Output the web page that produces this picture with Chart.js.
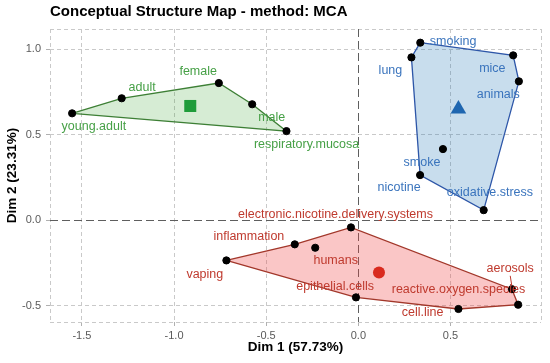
<!DOCTYPE html>
<html>
<head>
<meta charset="utf-8">
<script src="https://cdn.jsdelivr.net/npm/chart.js@4.4.1/dist/chart.umd.min.js"></script>
<style>
  html, body { margin: 0; padding: 0; background: #fff; }
  .chart-container { position: relative; width: 550px; height: 363px; }
</style>
</head>
<body>
<div class="chart-container"><canvas id="chart"></canvas></div>
<script>
// cluster 1 (green)
const greenWords = ["young.adult", "adult", "female", "male", "respiratory.mucosa"];
const greenX = [-1.553, -1.284, -0.757, -0.576, -0.390];
const greenY = [0.624, 0.712, 0.801, 0.677, 0.520];
const greenHull = [0, 1, 2, 3, 4];
const greenCentroid = [-0.912, 0.667];
const greenLabelX = [-1.435, -1.173, -0.869, -0.470, -0.281];
const greenLabelY = [0.546, 0.776, 0.870, 0.602, 0.444];

// cluster 2 (blue)
const blueWords = ["smoking", "lung", "mice", "animals", "smoke", "nicotine", "oxidative.stress"];
const blueX = [0.336, 0.288, 0.840, 0.871, 0.459, 0.335, 0.680];
const blueY = [1.037, 0.951, 0.963, 0.811, 0.415, 0.263, 0.058];
const blueHull = [0, 2, 3, 6, 5, 1];
const blueCentroid = [0.543, 0.649];
const blueLabelX = [0.514, 0.174, 0.727, 0.759, 0.345, 0.221, 0.714];
const blueLabelY = [1.045, 0.877, 0.885, 0.733, 0.337, 0.191, 0.162];

// cluster 3 (red)
const redWords = ["electronic.nicotine.delivery.systems", "inflammation", "humans", "vaping",
  "epithelial.cells", "cell.line", "reactive.oxygen.species", "aerosols"];
const redX = [-0.040, -0.345, -0.234, -0.716, -0.013, 0.543, 0.867, 0.833];
const redY = [-0.043, -0.142, -0.162, -0.236, -0.452, -0.520, -0.495, -0.404];
const redHull = [3, 1, 0, 7, 6, 5, 4];
const redCentroid = [0.112, -0.306];
const redLabelX = [-0.124, -0.594, -0.123, -0.833, -0.126, 0.349, 0.543, 0.824];
const redLabelY = [0.035, -0.094, -0.238, -0.318, -0.386, -0.542, -0.409, -0.285];

// labels joined to their point by a short segment
const segmentWords = ["aerosols"];

const xTickValues = [-1.5, -1.0, -0.5, 0.0, 0.5];
const yTickValues = [-0.5, 0.0, 0.5, 1.0];

const clusters = [
  { words: greenWords, xs: greenX, ys: greenY, hull: greenHull, centroid: greenCentroid,
    lx: greenLabelX, ly: greenLabelY, stroke: "#3d7f35", fill: "rgba(50,160,40,0.2)",
    text: "#46a046", mark: "#1f9c3a", style: "rect", size: 8.5 },
  { words: blueWords, xs: blueX, ys: blueY, hull: blueHull, centroid: blueCentroid,
    lx: blueLabelX, ly: blueLabelY, stroke: "#2d56a8", fill: "rgba(35,120,185,0.25)",
    text: "#3a74bd", mark: "#1f66b0", style: "triangle", size: 9 },
  { words: redWords, xs: redX, ys: redY, hull: redHull, centroid: redCentroid,
    lx: redLabelX, ly: redLabelY, stroke: "#a2372a", fill: "rgba(238,65,65,0.3)",
    text: "#bf3a2e", mark: "#d92a1e", style: "circle", size: 6 }
];

const datasets = [];
clusters.forEach(c => {
  const poly = c.hull.map(i => ({ x: c.xs[i], y: c.ys[i] }));
  poly.push(poly[0]);
  datasets.push({
    data: poly, showLine: true, fill: "shape", backgroundColor: c.fill,
    borderColor: c.stroke, borderWidth: 1.3, pointRadius: 0, order: 3
  });
  datasets.push({
    data: c.xs.map((x, i) => ({ x: x, y: c.ys[i] })),
    backgroundColor: "#000", borderColor: "#000", pointRadius: 3.6, order: 2
  });
  datasets.push({
    data: [{ x: c.centroid[0], y: c.centroid[1] }],
    pointStyle: c.style, pointRadius: c.size, backgroundColor: c.mark,
    borderColor: c.mark, borderWidth: 0, order: 1
  });
});

const FONT = "'Liberation Sans', Arial, Helvetica, sans-serif";

// zero lines, title and word labels
const extras = {
  id: "extras",
  beforeDatasetsDraw(chart) {
    const { ctx, chartArea: a, scales: { x, y } } = chart;
    ctx.save();
    ctx.strokeStyle = "#5e5e5e";
    ctx.lineWidth = 1;
    ctx.setLineDash([8, 4]);
    const x0 = Math.round(x.getPixelForValue(0)) + 0.5;
    const y0 = Math.round(y.getPixelForValue(0)) + 0.5;
    ctx.beginPath();
    ctx.moveTo(x0, a.top); ctx.lineTo(x0, a.bottom);
    ctx.moveTo(a.left, y0); ctx.lineTo(a.right, y0);
    ctx.stroke();
    ctx.restore();
  },
  afterDatasetsDraw(chart) {
    const { ctx, scales: { x, y } } = chart;
    ctx.save();
    ctx.font = "12.5px " + FONT;
    ctx.textAlign = "center";
    ctx.textBaseline = "middle";
    clusters.forEach(c => {
      c.words.forEach((w, i) => {
        const px = x.getPixelForValue(c.lx[i]);
        const py = y.getPixelForValue(c.ly[i]);
        if (segmentWords.includes(w)) {
          ctx.strokeStyle = c.text;
          ctx.lineWidth = 1;
          ctx.beginPath();
          ctx.moveTo(px, py + 7);
          ctx.lineTo(x.getPixelForValue(c.xs[i]), y.getPixelForValue(c.ys[i]) - 3);
          ctx.stroke();
        }
        ctx.fillStyle = c.text;
        ctx.fillText(w, px, py);
      });
    });
    ctx.fillStyle = "#000";
    ctx.font = "bold 15px " + FONT;
    ctx.textAlign = "left";
    ctx.fillText("Conceptual Structure Map - method: MCA", 50, 12);
    ctx.restore();
  }
};

function fmt(vals) {
  return function (v) {
    return vals.some(t => Math.abs(t - v) < 1e-9) ? v.toFixed(1) : "";
  };
}
function isMajor(vals, v) {
  return vals.some(t => Math.abs(t - v) < 1e-9);
}

new Chart(document.getElementById("chart"), {
  type: "scatter",
  data: { datasets: datasets },
  options: {
    responsive: true,
    maintainAspectRatio: false,
    animation: false,
    layout: { padding: { top: 29, right: 6, left: 0, bottom: 0 } },
    plugins: { legend: { display: false }, tooltip: { enabled: false } },
    scales: {
      x: {
        min: -1.673, max: 0.991,
        afterBuildTicks: s => { s.ticks = [s.min, ...xTickValues, s.max].map(v => ({ value: v })); },
        afterFit: s => { s.height = 41; },
        ticks: { callback: fmt(xTickValues), autoSkip: false, maxRotation: 0, color: "#5a5a5a",
          font: { family: FONT, size: 11 }, padding: 3 },
        grid: {
          color: c => (c.tick && Math.abs(c.tick.value) < 1e-9) ? "transparent" : "#c9c9c9",
          tickColor: c => (c.tick && isMajor(xTickValues, c.tick.value)) ? "#b0b0b0" : "transparent",
          tickLength: 4, lineWidth: 1
        },
        border: { display: false, dash: [4, 3] },
        title: { display: true, text: "Dim 1 (57.73%)", color: "#000",
          font: { family: FONT, size: 13.5, weight: "bold" }, padding: { top: 0, bottom: 8 } }
      },
      y: {
        min: -0.596, max: 1.117,
        afterBuildTicks: s => { s.ticks = [s.min, ...yTickValues, s.max].map(v => ({ value: v })); },
        afterFit: s => { s.width = 50; },
        ticks: { callback: fmt(yTickValues), autoSkip: false, color: "#5a5a5a",
          font: { family: FONT, size: 11 }, padding: 5 },
        grid: {
          color: c => (c.tick && Math.abs(c.tick.value) < 1e-9) ? "transparent" : "#c9c9c9",
          tickColor: c => (c.tick && isMajor(yTickValues, c.tick.value)) ? "#b0b0b0" : "transparent",
          tickLength: 4, lineWidth: 1
        },
        border: { display: false, dash: [4, 3] },
        title: { display: true, text: "Dim 2 (23.31%)", color: "#000",
          font: { family: FONT, size: 13.5, weight: "bold" }, padding: { top: 4, bottom: 0 } }
      }
    }
  },
  plugins: [extras]
});
</script>
</body>
</html>
